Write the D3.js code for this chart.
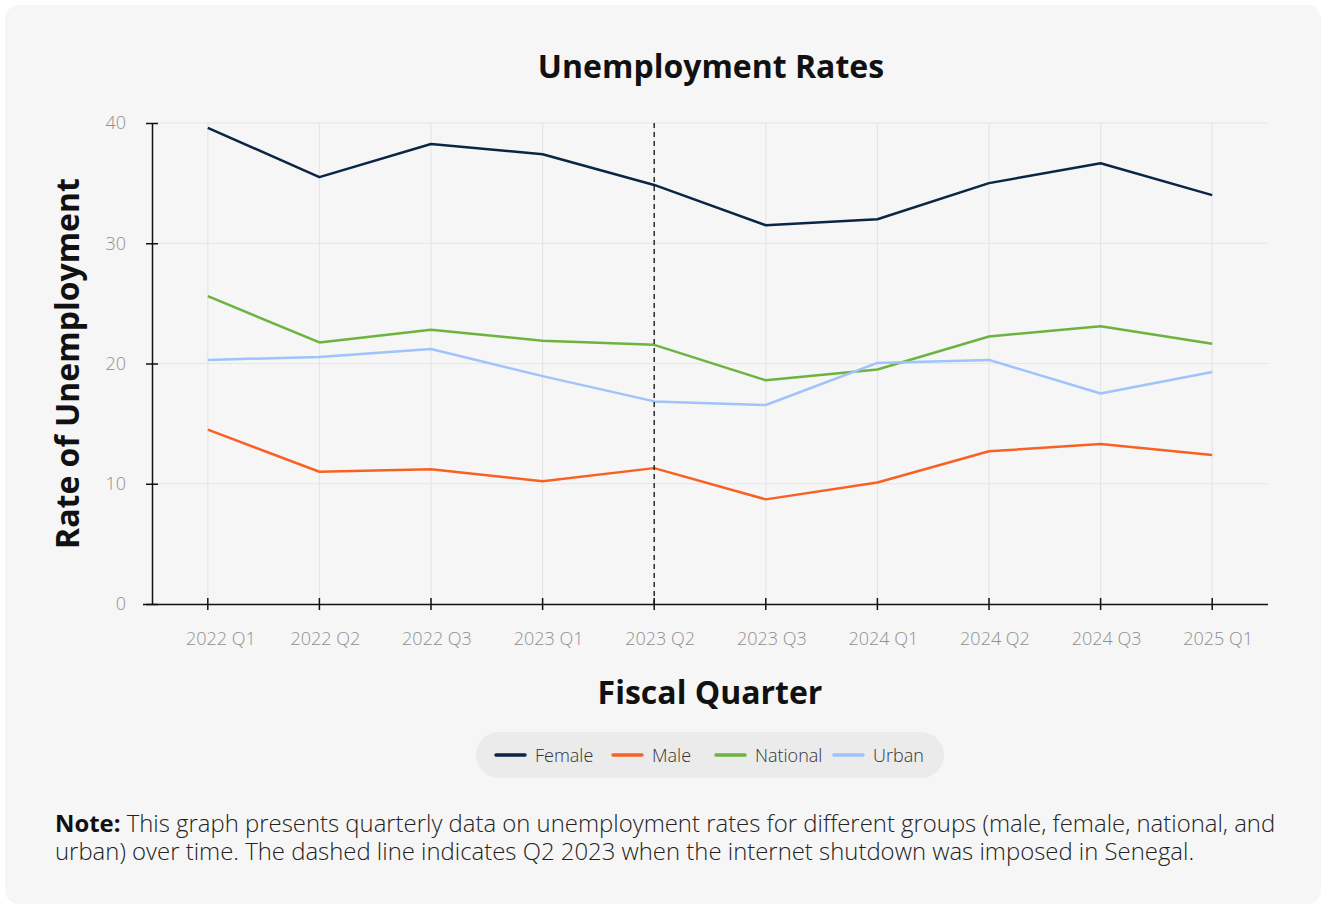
<!DOCTYPE html>
<html>
<head>
<meta charset="utf-8">
<script src="https://cdn.jsdelivr.net/npm/d3@7"></script>
<style>
  html, body { margin: 0; padding: 0; background: #ffffff; }
  svg { display: block; font-family: "Open Sans", "Noto Sans", sans-serif; }
</style>
</head>
<body>
<svg id="chart" width="1325" height="906"></svg>
<script>
// Quarterly unemployment rates (%)
const quarters = ["2022 Q1", "2022 Q2", "2022 Q3", "2023 Q1", "2023 Q2",
                  "2023 Q3", "2024 Q1", "2024 Q2", "2024 Q3", "2025 Q1"];
const female   = [39.6, 35.5, 38.25, 37.4, 34.85, 31.5, 32.0, 35.0, 36.65, 34.0];
const male     = [14.5, 11.0, 11.2, 10.2, 11.3, 8.7, 10.1, 12.7, 13.3, 12.4];
const national = [25.6, 21.75, 22.8, 21.9, 21.55, 18.6, 19.5, 22.25, 23.1, 21.65];
const urban    = [20.3, 20.55, 21.2, 18.95, 16.85, 16.55, 20.05, 20.3, 17.5, 19.3];
const yTicks   = [0, 10, 20, 30, 40];
const shutdownQuarter = "2023 Q2";

const seriesNames  = ["Female", "Male", "National", "Urban"];
const seriesValues = [female, male, national, urban];
const seriesColors = ["#0b2545", "#f76224", "#6db33f", "#9fc3fb"];

const svg = d3.select("#chart");

// card background
svg.append("rect")
  .attr("x", 5).attr("y", 5).attr("width", 1316).attr("height", 899)
  .attr("rx", 14).attr("fill", "#f6f6f6");

const plot = { left: 152, right: 1268, top: 123, bottom: 604 };

const x = d3.scaleBand().domain(quarters).range([plot.left, plot.right]);
const xc = q => x(q) + x.bandwidth() / 2;
const y = d3.scaleLinear().domain([0, 40]).range([plot.bottom, plot.top]);

// title
svg.append("text")
  .attr("x", 711).attr("y", 78)
  .attr("text-anchor", "middle")
  .attr("font-size", 32).attr("font-weight", 700).attr("fill", "#111")
  .text("Unemployment Rates");

// gridlines
const grid = svg.append("g");
grid.selectAll("line.h").data(yTicks.filter(t => t > 0)).join("line")
  .attr("x1", plot.left).attr("x2", plot.right)
  .attr("y1", d => y(d)).attr("y2", d => y(d))
  .attr("stroke", "#e6e6e6").attr("stroke-width", 1.2);
grid.selectAll("line.v").data(quarters).join("line")
  .attr("x1", d => xc(d)).attr("x2", d => xc(d))
  .attr("y1", plot.top).attr("y2", plot.bottom)
  .attr("stroke", "#e6e6e6").attr("stroke-width", 1.2);

// y axis
const yAxis = svg.append("g")
  .attr("transform", `translate(${plot.left},0)`)
  .call(d3.axisLeft(y).tickValues(yTicks).tickSize(6).tickSizeOuter(0).tickPadding(20));
yAxis.select(".domain").attr("stroke", "#111").attr("stroke-width", 1.5);
yAxis.selectAll(".tick line").attr("x1", 6).attr("x2", -6).attr("stroke", "#111").attr("stroke-width", 1.5);
yAxis.selectAll(".tick text")
  .attr("font-size", 18).attr("font-weight", 300).attr("fill", "#8f8f8f")
  .attr("font-family", "Open Sans, sans-serif");

// x axis
const xAxis = svg.append("g")
  .attr("transform", `translate(0,${plot.bottom})`)
  .call(d3.axisBottom(x).tickSize(6).tickSizeOuter(0).tickPadding(22));
xAxis.select(".domain").attr("d", `M${plot.left - 9},0.5H${plot.right}`)
  .attr("stroke", "#111").attr("stroke-width", 1.5);
xAxis.selectAll(".tick line").attr("y1", -6).attr("y2", 6).attr("stroke", "#111").attr("stroke-width", 1.5);
xAxis.selectAll(".tick text")
  .attr("font-size", 18).attr("font-weight", 300).attr("fill", "#8f8f8f")
  .attr("font-family", "Open Sans, sans-serif")
  .attr("dx", (d, i) => i === 0 ? 13 : 6);

// axis titles
svg.append("text")
  .attr("transform", `translate(79,${(plot.top + plot.bottom) / 2}) rotate(-90)`)
  .attr("text-anchor", "middle")
  .attr("font-size", 32).attr("font-weight", 700).attr("fill", "#111")
  .text("Rate of Unemployment");
svg.append("text")
  .attr("x", 710).attr("y", 704)
  .attr("text-anchor", "middle")
  .attr("font-size", 32).attr("font-weight", 700).attr("fill", "#111")
  .text("Fiscal Quarter");

// series lines
const line = d3.line().x((d, i) => xc(quarters[i])).y(d => y(d));
svg.append("g").selectAll("path").data(seriesValues).join("path")
  .attr("d", d => line(d))
  .attr("fill", "none")
  .attr("stroke", (d, i) => seriesColors[i])
  .attr("stroke-width", 2.5)
  .attr("stroke-linejoin", "round");

// shutdown marker
svg.append("line")
  .attr("x1", xc(shutdownQuarter)).attr("x2", xc(shutdownQuarter))
  .attr("y1", plot.top).attr("y2", plot.bottom)
  .attr("stroke", "#111").attr("stroke-width", 1.3)
  .attr("stroke-dasharray", "5,4");

// legend
const legend = svg.append("g");
legend.append("rect")
  .attr("x", 476).attr("y", 732).attr("width", 468).attr("height", 46)
  .attr("rx", 23).attr("fill", "#ebebeb");
const legendX = [496, 613, 716, 834];
seriesNames.forEach((name, i) => {
  const g = legend.append("g").attr("transform", `translate(${legendX[i]},755)`);
  g.append("line").attr("x1", 0).attr("x2", 29).attr("y1", 0).attr("y2", 0)
    .attr("stroke", seriesColors[i]).attr("stroke-width", 3.5).attr("stroke-linecap", "round");
  g.append("text").attr("x", 39).attr("y", 6.5)
    .attr("font-size", 18).attr("font-weight", 300).attr("fill", "#333").text(name);
});

// note paragraph, two lines in one text block
const note = svg.append("text")
  .attr("x", 55).attr("y", 832)
  .attr("font-size", 23.9).attr("font-weight", 300).attr("fill", "#222");
note.append("tspan").attr("font-weight", 700).attr("fill", "#111").text("Note:");
note.append("tspan")
  .text(" This graph presents quarterly data on unemployment rates for different groups (male, female, national, and");
note.append("tspan").attr("x", 55).attr("dy", 28)
  .text("urban) over time. The dashed line indicates Q2 2023 when the internet shutdown was imposed in Senegal.");
</script>
</body>
</html>
